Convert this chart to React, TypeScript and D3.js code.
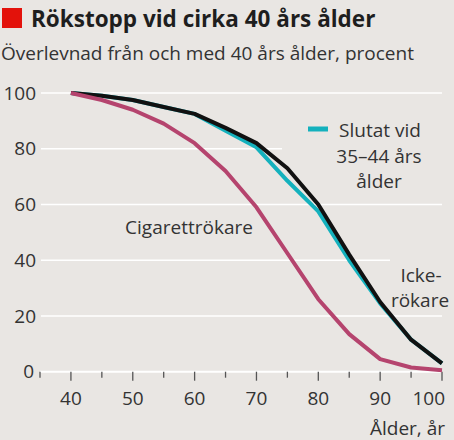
import React from "react";
import * as d3 from "d3";

const ages = [40, 45, 50, 55, 60, 65, 70, 75, 80, 85, 90, 95, 100];
const smokers = [100, 97.5, 94, 89, 82, 72, 59, 42.5, 26, 13.5, 4.5, 1.5, 0.5];
const neverSmoked = [100, 99, 97.5, 95, 92.5, 87.5, 82, 73, 60, 42, 25, 11.5, 3];
const quit3544 = [100, 99, 97.5, 95, 92.5, 86.5, 80.5, 68.5, 57.5, 40, 24.5, 11.5, 3];
const yTicks = [0, 20, 40, 60, 80, 100];
const xLabels = [40, 50, 60, 70, 80, 90, 100];
const xTicks = d3.range(35, 101, 5);

const W = 454;
const H = 440;
const FONT = "'Open Sans', 'Noto Sans', sans-serif";
const FS = 19;

export default function App() {
  const x = d3.scaleLinear().domain([35, 100]).range([40, 442]);
  const y = d3.scaleLinear().domain([0, 100]).range([371.7, 93]);
  const line = d3
    .line<[number, number]>()
    .x((d) => x(d[0]))
    .y((d) => y(d[1]));
  const mk = (vals: number[]) => line(ages.map((a, i) => [a, vals[i]] as [number, number])) || "";
  const gridEnd: Record<number, number> = { 100: 442, 80: 282, 60: 442, 40: 390, 20: 442 };

  return (
    <div style={{ position: "absolute", left: 0, top: 0 }}>
      <svg width={W} height={H} style={{ display: "block", background: "#e9e6e3" }}>
        <rect x={2} y={8} width={20} height={20} fill="#e3120b" />
        <text x={31} y={27} fontFamily={FONT} fontWeight={700} fontSize={22.5} fill="#1e1e1e">
          Rökstopp vid cirka 40 års ålder
        </text>
        <text x={1} y={60} fontFamily={FONT} fontSize={FS} fill="#333">
          Överlevnad från och med 40 års ålder, procent
        </text>

        {yTicks.filter((t) => t > 0).map((t) => (
          <line key={t} x1={41} x2={gridEnd[t]} y1={y(t)} y2={y(t)} stroke="#fff" strokeWidth={1.5} />
        ))}
        {yTicks.map((t) => (
          <text
            key={"yl" + t}
            x={t === 0 ? 34 : 36}
            y={y(t)}
            dy="0.35em"
            textAnchor="end"
            fontFamily={FONT}
            fontSize={FS}
            fill="#333"
          >
            {t}
          </text>
        ))}

        <line x1={40} x2={442} y1={y(0)} y2={y(0)} stroke="#fff" strokeWidth={2} />
        {xTicks.map((t) => (
          <line
            key={"xt" + t}
            x1={x(t)}
            x2={x(t)}
            y1={y(0)}
            y2={y(0) + (t % 10 === 0 ? 9 : 6)}
            stroke="#555"
            strokeWidth={1.3}
          />
        ))}
        {xLabels.map((t) => (
          <text
            key={"xl" + t}
            x={t === 100 ? 445 : x(t)}
            y={398}
            dy="0.35em"
            textAnchor={t === 100 ? "end" : "middle"}
            fontFamily={FONT}
            fontSize={FS}
            fill="#333"
          >
            {t}
          </text>
        ))}
        <text x={445} y={428} dy="0.35em" textAnchor="end" fontFamily={FONT} fontSize={FS} fill="#333">
          Ålder, år
        </text>

        <path d={mk(quit3544)} fill="none" stroke="#14b1bd" strokeWidth={4} strokeLinejoin="round" />
        <path d={mk(neverSmoked)} fill="none" stroke="#111" strokeWidth={4} strokeLinejoin="round" />
        <path d={mk(smokers)} fill="none" stroke="#b5446e" strokeWidth={4} strokeLinejoin="round" />

        <line x1={308} x2={328} y1={129} y2={129} stroke="#14b1bd" strokeWidth={5} />
        <g fontFamily={FONT} fontSize={FS} fill="#333" textAnchor="middle">
          <text x={380} y={130} dy="0.35em">Slutat vid</text>
          <text x={379} y={156} dy="0.35em">35–44 års</text>
          <text x={379} y={181} dy="0.35em">ålder</text>
          <text x={421} y={275} dy="0.35em">Icke-</text>
          <text x={420} y={300} dy="0.35em">rökare</text>
          <text x={189} y={227} dy="0.35em">Cigarettrökare</text>
        </g>
      </svg>
    </div>
  );
}
